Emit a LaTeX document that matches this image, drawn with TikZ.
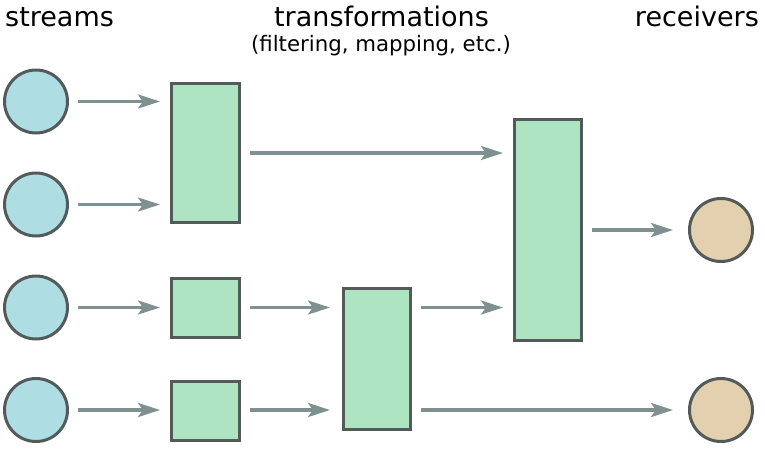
\documentclass[tikz,border=0pt]{standalone}
\usepackage{fontspec}
\setmainfont{DejaVu Sans}
\usetikzlibrary{arrows.meta}
\definecolor{streamfill}{HTML}{AEDDE3}
\definecolor{transfill}{HTML}{AFE4C2}
\definecolor{recvfill}{HTML}{E3D0AE}
\definecolor{edgegray}{HTML}{525B59}
\definecolor{flowgray}{HTML}{7E9190}
\begin{document}
\begin{tikzpicture}[x=1pt,y=-1pt,
  streamnode/.style={circle,draw=edgegray,fill=streamfill,line width=3pt,minimum size=63pt,inner sep=0pt},
  recvnode/.style={circle,draw=edgegray,fill=recvfill,line width=3pt,minimum size=63pt,inner sep=0pt},
  transbox/.style={rectangle,draw=edgegray,fill=transfill,line width=3pt,inner sep=0pt},
  flow/.style={draw=flowgray,line width=3.3pt,
    -{Stealth[length=22pt,width=14pt,inset=5pt]},shorten <=9pt,shorten >=10pt},
  tolast/.style={flow,shorten >=15pt},
  heading/.style={inner sep=0pt,font=\fontsize{27}{32}\selectfont}]
\useasboundingbox (0,0) rectangle (765,451);

% column headings
\node[heading,anchor=base west] (hstreams) at (5,26) {streams};
\node[heading,anchor=base] (htrans) at (381.5,26) {transformations};
\node[inner sep=0pt,anchor=base,font=\fontsize{21.3}{25}\selectfont] (hsub) at (381,51) {(filtering, mapping, etc.)};
\node[heading,anchor=base east] (hrecv) at (759,26) {receivers};

% input streams
\node[streamnode] (c1) at (36,101.5) {};
\node[streamnode] (c2) at (36,204.5) {};
\node[streamnode] (c3) at (36,307.5) {};
\node[streamnode] (c4) at (36,410) {};

% transformation stages
\node[transbox,minimum width=68pt,minimum height=139pt] (r1) at (205.5,153) {};
\node[transbox,minimum width=68pt,minimum height=59pt] (s2) at (205.5,308) {};
\node[transbox,minimum width=68pt,minimum height=59pt] (s3) at (205.5,411) {};
\node[transbox,minimum width=67pt,minimum height=141pt] (m) at (377,359) {};
\node[transbox,minimum width=67pt,minimum height=221pt] (bigr) at (548,230) {};

% receivers
\node[recvnode] (d1) at (721,230) {};
\node[recvnode] (d2) at (721,410) {};

% connections
\draw[flow] (c1.east) -- (c1.east -| r1.west);
\draw[flow] (c2.east) -- (c2.east -| r1.west);
\draw[flow] (c3.east) -- (c3.east -| s2.west);
\draw[flow] (c4.east) -- (c4.east -| s3.west);
\draw[flow] (r1.east) -- (r1.east -| bigr.west);
\draw[flow,shorten >=12pt] (c3.east -| s2.east) -- (c3.east -| m.west);
\draw[flow,shorten >=12pt] (c4.east -| s3.east) -- (c4.east -| m.west);
\draw[flow] (c3.east -| m.east) -- (c3.east -| bigr.west);
\draw[tolast] (bigr.east) -- (d1.west);
\draw[tolast] (d2.west -| m.east) -- (d2.west);
\end{tikzpicture}
\end{document}
